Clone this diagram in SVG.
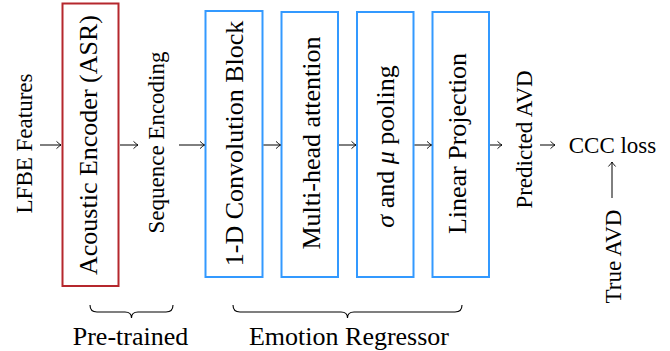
<svg xmlns="http://www.w3.org/2000/svg" width="670" height="351" viewBox="0 0 670 351">
<style>
.red{fill:none;stroke:#b5272d;stroke-width:2}
.blue{fill:none;stroke:#3399ff;stroke-width:2}
.arr{fill:none;stroke:#000;stroke-width:1;marker-end:url(#ah)}
.brace{fill:none;stroke:#000;stroke-width:1.1}
</style>
<defs>
<marker id="ah" markerUnits="userSpaceOnUse" markerWidth="10" markerHeight="10" viewBox="-6 -5 8 10" refX="0" refY="0" orient="auto">
<path d="M-4.5,-3.6 Q-1.2,-0.6 0,0 Q-1.2,0.6 -4.5,3.6" fill="none" stroke="#000" stroke-width="0.9"/>
</marker>
</defs>
<g id="lfbe"><text font-family="Liberation Serif" font-size="23" transform="translate(32,143.5) rotate(-90)" text-anchor="middle">LFBE Features</text></g>
<g id="encoder"><rect class="red" x="62.5" y="3.5" width="56" height="282.5"/><text font-family="Liberation Serif" font-size="26" transform="translate(97,145) rotate(-90)" text-anchor="middle">Acoustic Encoder (ASR)</text></g>
<g id="seq"><text font-family="Liberation Serif" font-size="23" transform="translate(163.5,142.5) rotate(-90)" text-anchor="middle">Sequence Encoding</text></g>
<g id="conv"><rect class="blue" x="205.5" y="11" width="57" height="266"/><text font-family="Liberation Serif" font-size="26" transform="translate(243,143.5) rotate(-90)" text-anchor="middle">1-D Convolution Block</text></g>
<g id="mha"><rect class="blue" x="281.5" y="12" width="56.5" height="265"/><text font-family="Liberation Serif" font-size="26" transform="translate(319.5,143) rotate(-90)" text-anchor="middle">Multi-head attention</text></g>
<g id="pool"><rect class="blue" x="357" y="12" width="56.5" height="265"/><text font-family="Liberation Serif" font-size="26" transform="translate(394,146.5) rotate(-90)" text-anchor="middle"><tspan font-style="italic">σ</tspan> and <tspan font-style="italic">μ</tspan> pooling</text></g>
<g id="linear"><rect class="blue" x="432.5" y="12" width="56.5" height="265"/><text font-family="Liberation Serif" font-size="26" transform="translate(466,143.5) rotate(-90)" text-anchor="middle">Linear Projection</text></g>
<g id="pred"><text font-family="Liberation Serif" font-size="23" transform="translate(532,139.5) rotate(-90)" text-anchor="middle">Predicted AVD</text></g>
<g id="ccc"><text font-family="Liberation Serif" font-size="23" x="612.5" y="153" text-anchor="middle">CCC loss</text></g>
<g id="true"><text font-family="Liberation Serif" font-size="23" transform="translate(621,256.5) rotate(-90)" text-anchor="middle">True AVD</text></g>
<g id="pretrained"><path class="brace" d="M90,305 Q90,312 97,312 L125,312 Q131.5,312 131.5,318 Q131.5,312 138,312 L166,312 Q173,312 173,305"/><text font-family="Liberation Serif" font-size="26" x="130.5" y="345" text-anchor="middle">Pre-trained</text></g>
<g id="regressor"><path class="brace" d="M233,305 Q233,312 240,312 L341,312 Q347.5,312 347.5,318 Q347.5,312 354,312 L455,312 Q462,312 462,305"/><text font-family="Liberation Serif" font-size="26" x="349" y="345" text-anchor="middle">Emotion Regressor</text></g>
<g id="connectors">
<line class="arr" x1="40" y1="145" x2="61" y2="145"/>
<line class="arr" x1="120" y1="145" x2="138" y2="145"/>
<line class="arr" x1="179" y1="145" x2="204.5" y2="145"/>
<line class="arr" x1="263.5" y1="145" x2="280.5" y2="145"/>
<line class="arr" x1="339" y1="145" x2="356" y2="145"/>
<line class="arr" x1="414.5" y1="145" x2="431.5" y2="145"/>
<line class="arr" x1="490" y1="145" x2="502" y2="145"/>
<line class="arr" x1="540" y1="145" x2="555" y2="145"/>
<line class="arr" x1="612" y1="198" x2="612" y2="162"/>
</g>
</svg>
